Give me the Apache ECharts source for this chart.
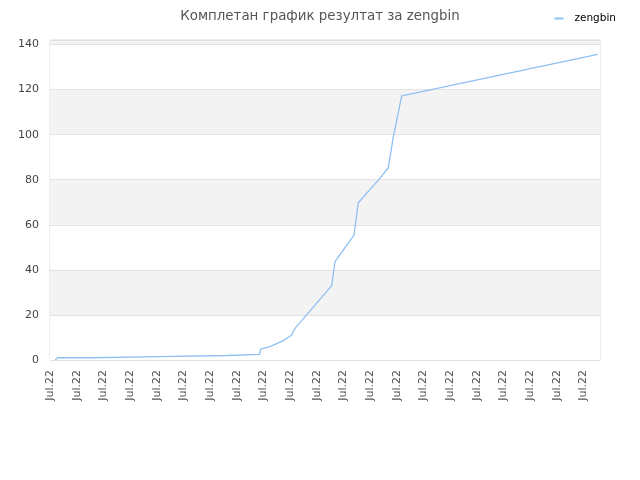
<!DOCTYPE html>
<html lang="sr">
<head>
    <meta charset="UTF-8">
    <title>zengbin</title>
    <script src="https://cdn.jsdelivr.net/npm/echarts@6/dist/echarts.min.js"></script>
</head>
<body style="margin:0">
<div id="main" style="width: 640px;height: 480px"></div>
<script type="text/javascript">
    // x position in label steps (one "Jul.22" label per unit), y = result
    var xs = [0.19, 0.30, 1.575, 1.594, 4.088, 4.106, 6.638, 6.656, 7.864, 7.894, 8.25, 8.749, 9.064, 9.188, 10.564, 10.688, 11.40, 11.561, 12.311, 12.686, 12.874, 13.189, 20.539];
    var ys = [0, 1, 1, 1.5, 1.5, 2, 2, 2.5, 2.5, 4.8, 5.9, 8.6, 11.1, 14, 33, 43.6, 55.4, 69.8, 79.8, 85.3, 99, 117.2, 135.6];
    var xLabel = 'Jul.22';
    var seriesName = 'zengbin';

    var points = xs.map(function (x, i) { return [x, ys[i]]; });

    var myChart = echarts.init(document.getElementById('main'));
    var font = 'DejaVu Sans';

    myChart.setOption({
        animation: false,
        title: {
            text: 'Комплетан график резултат за zengbin',
            left: 'center',
            top: 5,
            textStyle: { fontFamily: font, fontSize: 13.4, fontWeight: 'normal', color: '#555' }
        },
        legend: {
            right: 19,
            top: 8,
            icon: 'rect',
            itemWidth: 9,
            itemHeight: 2,
            textStyle: { fontFamily: font, fontSize: 10.5, color: '#000', padding: [0, 0, 0, 6] },
            data: [seriesName]
        },
        grid: {
            left: 50,
            right: 40,
            top: 40,
            bottom: 120,
            show: true,
            borderColor: '#dcdcdc',
            borderWidth: 1
        },
        xAxis: {
            type: 'value',
            min: 0,
            max: 20.625,
            interval: 1,
            axisLine: { show: false },
            axisTick: { show: false },
            splitLine: { show: false },
            axisLabel: {
                rotate: 90,
                margin: 10,
                showMaxLabel: false,
                fontFamily: font,
                fontSize: 11,
                color: '#555',
                formatter: function () { return xLabel; }
            }
        },
        yAxis: {
            type: 'value',
            min: 0,
            max: 142,
            interval: 20,
            axisLine: { show: false },
            axisTick: { show: false },
            axisLabel: {
                margin: 11,
                showMaxLabel: false,
                fontFamily: font,
                fontSize: 11,
                color: '#444'
            },
            splitLine: { lineStyle: { color: '#e2e2e2' } },
            splitArea: { show: true, areaStyle: { color: ['#ffffff', '#f3f3f3'] } }
        },
        series: [{
            name: seriesName,
            type: 'line',
            data: points,
            showSymbol: false,
            symbol: 'none',
            lineStyle: { width: 1.3, color: '#8fc0f2' },
            itemStyle: { color: '#8fc0f2' }
        }]
    });
</script>
</body>
</html>
